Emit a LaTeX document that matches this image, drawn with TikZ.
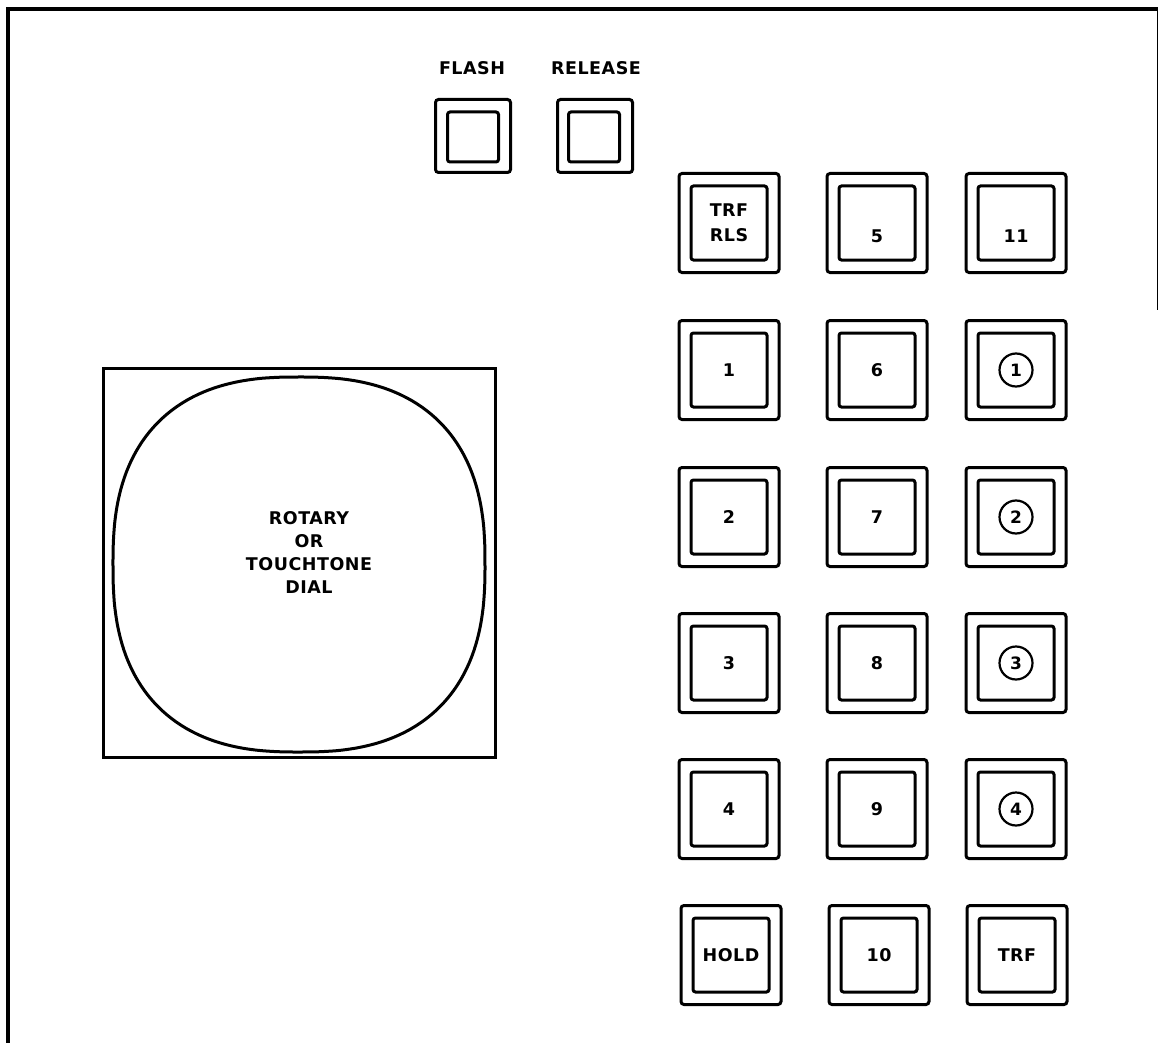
\documentclass[tikz,border=0pt]{standalone}
\usepackage{fontspec}
\setmainfont{DejaVu Sans}
\begin{document}
\begin{tikzpicture}[x=1pt,y=-1pt,
  lbl/.style={inner sep=0pt, font=\fontsize{17.5}{20}\selectfont\bfseries\addfontfeatures{LetterSpace=3}},
  outerkey/.style={draw, line width=3pt, rounded corners=3pt, minimum width=100pt, minimum height=99pt, inner sep=0pt},
  innerkey/.style={draw, line width=3pt, rounded corners=2.5pt, minimum width=76pt, minimum height=74pt, inner sep=0pt, align=center, font=\fontsize{17.5}{25}\selectfont\bfseries\addfontfeatures{LetterSpace=3}},
  keytext/.style={inner sep=0pt, font=\fontsize{17.5}{25}\selectfont\bfseries\addfontfeatures{LetterSpace=3}},
  outersmall/.style={draw, line width=3pt, rounded corners=3pt, minimum width=75pt, minimum height=73pt, inner sep=0pt},
  innersmall/.style={draw, line width=3pt, rounded corners=2.5pt, minimum width=51pt, minimum height=50pt, inner sep=0pt},
  circ/.style={draw, circle, line width=2.2pt, minimum size=33pt, inner sep=0pt, font=\fontsize{17}{20}\selectfont\bfseries},
  frame/.style={line width=4pt},
  dialline/.style={line width=3pt}]
\useasboundingbox (0,0) rectangle (1159,1043);

% frame
\draw[frame] (8,1043) -- (8,9) -- (1158,9);
\draw[line width=1pt] (1157.5,9) -- (1157.5,310);

% flash / release
\node[lbl] (flashlbl) at (472,68) {FLASH};
\node[lbl] (releaselbl) at (596,68) {RELEASE};
\node[outersmall] (flash) at (473,136) {};
\node[innersmall] (flashin) at (473,137) {};
\node[outersmall] (release) at (595,136) {};
\node[innersmall] (releasein) at (594,137) {};

% dial
\node[draw, dialline, minimum width=392pt, minimum height=389pt, inner sep=0pt] (dialbox) at (299,562.5) {};
\draw[dialline] plot[domain=0.5:358.5, samples=180, smooth]
  ({299+186*sign(cos(\x))*abs(cos(\x))^0.8}, {564.5+187.5*sign(sin(\x))*abs(sin(\x))^0.8}) -- cycle;
\node[align=center, inner sep=0pt, font=\fontsize{17.5}{23}\selectfont\bfseries\addfontfeatures{LetterSpace=3}] (dialtext) at (309,553) {ROTARY\\OR\\TOUCHTONE\\DIAL};

% key grid
\foreach \n/\x/\y/\t in {
  a/729/223/{TRF\\RLS}, b/877/223/{}, c/1016/223/{},
  d/729/370/1, e/877/370/6, f/1016/370/{},
  g/729/517/2, h/877/517/7, i/1016/517/{},
  j/729/663/3, k/877/663/8, l/1016/663/{},
  m/729/809/4, n/877/809/9, o/1016/809/{},
  p/731/955/HOLD, q/879/955/10, r/1017/955/TRF}{
  \node[outerkey] (key\n) at (\x,\y) {};
  \node[innerkey] (in\n) at (\x,\y) {\t};
}
\node[keytext] (t5) at ([yshift=-13pt]keyb.center) {5};
\node[keytext] (t11) at ([yshift=-13pt]keyc.center) {11};
\node[circ] (c1) at (keyf) {1};
\node[circ] (c2) at (keyi) {2};
\node[circ] (c3) at (keyl) {3};
\node[circ] (c4) at (keyo) {4};
\end{tikzpicture}
\end{document}
